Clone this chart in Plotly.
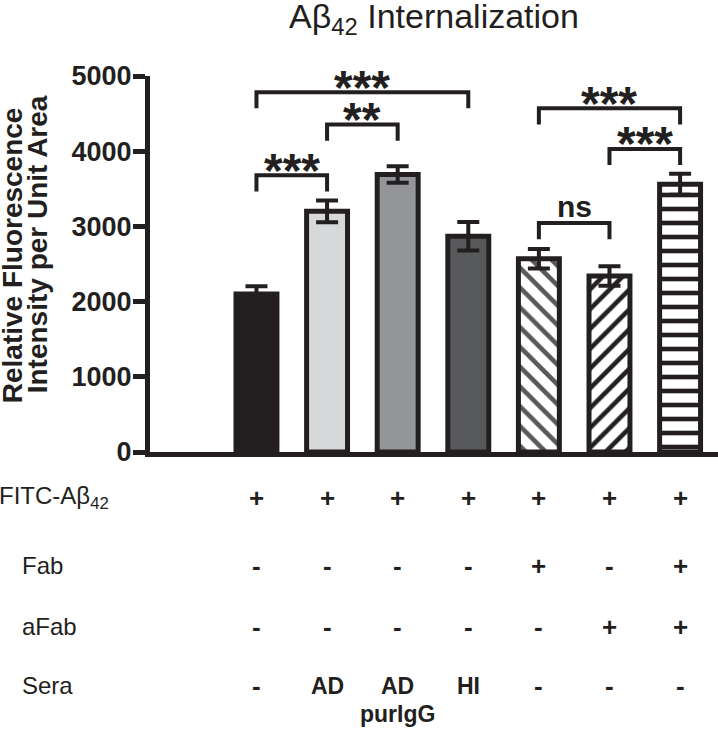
import plotly.graph_objects as go

# ---------------- data ----------------
groups = ["FITC", "AD sera", "AD purIgG", "HI sera", "Fab", "aFab", "Fab+aFab"]
means = [2100, 3200, 3690, 2870, 2570, 2340, 3560]
sems = [105, 145, 110, 190, 130, 130, 140]

row_labels = ["FITC-Aβ<sub>42</sub>", "Fab", "aFab", "Sera"]
fitc_row = ["+", "+", "+", "+", "+", "+", "+"]
fab_row = ["-", "-", "-", "-", "+", "-", "+"]
afab_row = ["-", "-", "-", "-", "-", "+", "+"]
sera_row = ["-", "AD", "AD", "HI", "-", "-", "-"]
sera_sub = ["", "", "purIgG", "", "", "", ""]

bracket_left = [0, 1, 0, 4, 5, 4]
bracket_right = [1, 2, 3, 6, 6, 5]
bracket_top = [3680, 4355, 4785, 4570, 4030, 3045]
bracket_label = ["***", "**", "***", "***", "***", "ns"]

# ---------------- styles ----------------
INK = "#231f20"
fill_colors = [INK, "#d7d8da", "#939598", "#58595b", "white", "white", "white"]
pattern_shapes = ["", "", "", "", "\\", "/", "-"]
pattern_fg = [INK, INK, INK, INK, "#58595b", INK, INK]
FONT = "Arial, Liberation Sans, sans-serif"

W, H = 718, 730
L, R, T, B = 150, 0, 75.5, 278
plot_w = W - L - R
plot_h = H - T - B


def px_y(p):
    return (H - B - p) / plot_h


def px_x(p):
    return (p - L) / plot_w


xs = list(range(len(groups)))

fig = go.Figure()
for xi, m, s, fc, shp, fg in zip(xs, means, sems, fill_colors, pattern_shapes, pattern_fg):
    marker = dict(color=fc, line=dict(color=INK, width=5))
    if shp:
        marker["pattern"] = dict(shape=shp, fgcolor=fg, bgcolor=fc,
                                 size=14, solidity=0.33, fillmode="replace")
    fig.add_trace(go.Bar(
        x=[xi], y=[m], width=0.58, marker=marker,
        error_y=dict(type="data", array=[s], visible=True, color=INK,
                     thickness=4, width=11),
        hoverinfo="skip", showlegend=False,
    ))

shapes = []
annotations = []
LEG = 215
for l, r, top, lab in zip(bracket_left, bracket_right, bracket_top, bracket_label):
    shapes.append(dict(type="path", xref="x", yref="y",
                       path=f"M {l} {top - LEG} L {l} {top} L {r} {top} L {r} {top - LEG}",
                       line=dict(color=INK, width=4)))
    is_ns = lab == "ns"
    annotations.append(dict(
        x=(l + r) / 2, y=top, xref="x", yref="y", text=f"<b>{lab}</b>",
        showarrow=False, yanchor="middle", xanchor="center",
        yshift=17 if is_ns else 5,
        font=dict(family=FONT, size=30 if is_ns else 48, color=INK)))

# bottom condition table
row_py = [498, 566, 627, 686]
rows = [fitc_row, fab_row, afab_row, sera_row]
label_px = [-3, 20, 20, 20]
for lab, lx, ry in zip(row_labels, label_px, row_py):
    annotations.append(dict(
        x=px_x(lx), y=px_y(ry), xref="paper", yref="paper", text=lab,
        showarrow=False, xanchor="left", yanchor="middle",
        font=dict(family=FONT, size=24, color=INK)))
for row, ry in zip(rows, row_py):
    for xi, t in zip(xs, row):
        annotations.append(dict(
            x=xi, y=px_y(ry), xref="x", yref="paper", text=f"<b>{t}</b>",
            showarrow=False, xanchor="center", yanchor="middle",
            font=dict(family=FONT, size=26 if t in "+-" else 23, color=INK)))
for xi, t in zip(xs, sera_sub):
    if t:
        annotations.append(dict(
            x=xi, y=px_y(714), xref="x", yref="paper", text=f"<b>{t}</b>",
            showarrow=False, xanchor="center", yanchor="middle",
            font=dict(family=FONT, size=23, color=INK)))

# y-axis title (two lines)
for txt, cx, cy in [("Relative Fluorescence", 12, 255), ("Intensity per Unit Area", 37, 244)]:
    annotations.append(dict(
        x=px_x(cx), y=px_y(cy), xref="paper", yref="paper", text=f"<b>{txt}</b>",
        showarrow=False, textangle=-90, xanchor="center", yanchor="middle",
        font=dict(family=FONT, size=28, color=INK)))

fig.update_layout(
    width=W, height=H,
    margin=dict(l=L, r=R, t=T, b=B, pad=0),
    paper_bgcolor="white", plot_bgcolor="white",
    barmode="overlay",
    title=dict(text="Aβ<sub>42</sub> Internalization", x=0.5, xref="paper",
               xanchor="center", y=1 - 16 / H, yref="container", yanchor="middle",
               font=dict(family=FONT, size=34, color=INK)),
    xaxis=dict(range=[-1.508, 6.537], showticklabels=False, ticks="",
               showgrid=False, zeroline=False, showline=True, linecolor=INK,
               linewidth=5, fixedrange=True),
    yaxis=dict(range=[0, 5000], tickvals=[0, 1000, 2000, 3000, 4000, 5000],
               ticks="outside", ticklen=12, tickwidth=5, tickcolor=INK,
               ticklabelstandoff=-4,
               showgrid=False, zeroline=False, showline=True, linecolor=INK,
               linewidth=5,
               tickfont=dict(family=FONT, size=27, color=INK, weight="bold")),
    shapes=shapes,
    annotations=annotations,
)

fig.write_html("out.html", config={"displayModeBar": False},
               post_script="document.body.style.margin='0';")
